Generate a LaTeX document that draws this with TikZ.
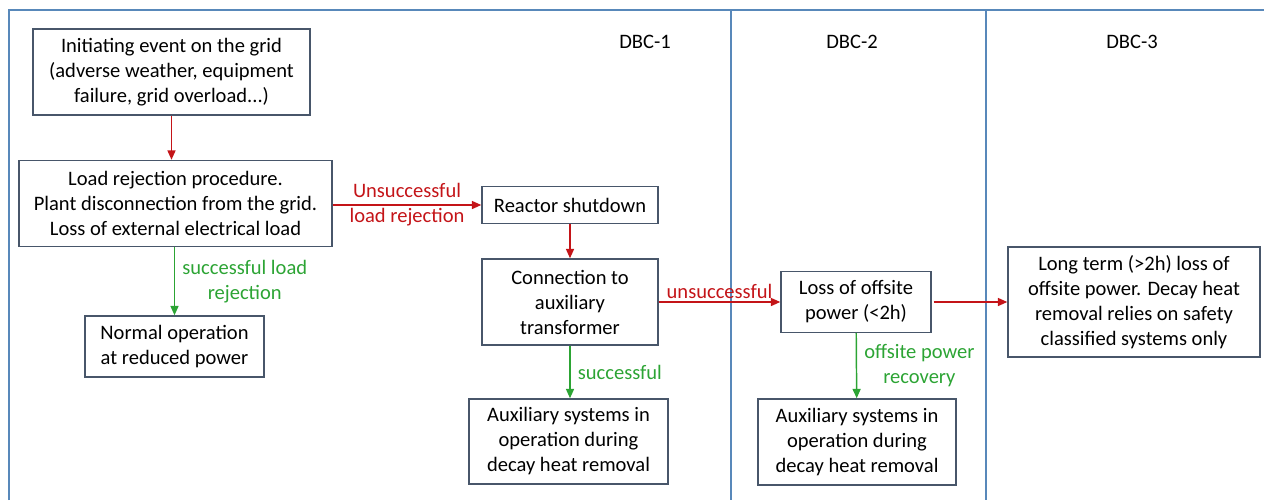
\documentclass[tikz,border=0pt]{standalone}
\usepackage{fontspec}
\setmainfont{Carlito}
\usepackage{tikz}
\usetikzlibrary{arrows.meta}
\definecolor{lanecol}{RGB}{88,136,186}
\definecolor{boxcol}{RGB}{72,86,106}
\definecolor{failcol}{RGB}{196,20,24}
\definecolor{okcol}{RGB}{44,164,52}
\tikzset{basic/.style={draw=boxcol,line width=1.1pt,fill=white,
                       align=center,inner sep=0pt,
                       font=\fontsize{15.4}{18.75}\selectfont}}
\tikzset{event/.style={basic,rectangle}}
\tikzset{fail/.style={color=failcol,line width=1.1pt,->}}
\tikzset{okay/.style={color=okcol,line width=1.1pt,->}}
\tikzset{failtext/.style={text=failcol,align=center,font=\fontsize{15.4}{18.75}\selectfont}}
\tikzset{oktext/.style={text=okcol,align=center,font=\fontsize{15.4}{18.75}\selectfont}}
\tikzset{lane/.style={draw=lanecol,line width=1pt}}

\begin{document}
\begin{tikzpicture}[x=0.75pt,y=-0.75pt,>={Triangle[length=7pt,width=6pt]}]
    \useasboundingbox (0,0) rectangle (1264,500);

    % lanes
    \draw[lane] (9,500) -- (9,10) -- (1264,10);
    \draw[lane] (731,10) -- (731,500);
    \draw[lane] (986,10) -- (986,500);
    \foreach \t/\x in {DBC-1/645,DBC-2/852,DBC-3/1132}{
        \node[font=\fontsize{15.4}{18.75}\selectfont] (lbl\t) at (\x,42) {\t};
    }

    % DBC-1
    \node[event,minimum width=277*0.75pt,minimum height=86*0.75pt] (init) at (171.5,72)
        {Initiating event on the grid\\(adverse weather, equipment\\failure, grid overload...)};
    \node[event,minimum width=313*0.75pt,minimum height=86*0.75pt] (loadrej) at (175.5,203.5)
        {Load rejection procedure.\\Plant disconnection from the grid.\\Loss of external electrical load};
    \node[event,minimum width=179*0.75pt,minimum height=61*0.75pt] (normal) at (174.5,346.5)
        {Normal operation\\at reduced power};
    \node[event,minimum width=176*0.75pt,minimum height=37*0.75pt] (shutdown) at (570,205)
        {Reactor shutdown};
    \node[event,minimum width=176*0.75pt,minimum height=86*0.75pt] (conn) at (570,302)
        {Connection to\\auxiliary\\transformer};
    \node[event,minimum width=199*0.75pt,minimum height=85*0.75pt] (aux1) at (568.5,441.5)
        {Auxiliary systems in\\operation during\\decay heat removal};

    % DBC-2
    \node[event,minimum width=150*0.75pt,minimum height=61*0.75pt] (lossoff) at (856,302)
        {Loss of offsite\\power (<2h)};
    \node[event,minimum width=198*0.75pt,minimum height=86*0.75pt] (aux2) at (857,442)
        {Auxiliary systems in\\operation during\\decay heat removal};

    % DBC-3
    \node[event,minimum width=252*0.75pt,minimum height=110*0.75pt] (longterm) at (1134,302)
        {Long term (>2h) loss of\\offsite power. Decay heat\\removal relies on safety\\classified systems only};

    % connectors
    \draw[fail] (init.south) -- (init.south |- loadrej.north);
    \draw[okay] (normal.north |- loadrej.south) -- (normal.north)
        node[oktext,midway,right=2pt] {successful load\\rejection};
    \draw[fail] (shutdown.west -| loadrej.east) -- (shutdown.west)
        node[failtext,midway] {Unsuccessful\\load rejection};
    \draw[fail] (shutdown) -- (conn);
    \draw[okay] (conn) -- (aux1.north -| conn)
        node[oktext,midway,right=2pt] {successful};
    \draw[fail] (conn.east) -- (lossoff.west)
        node[failtext,midway,above=-1pt] {unsuccessful};
    \draw[fail] ([xshift=1.5pt]lossoff.east) -- (longterm.west);
    \draw[okay] (lossoff) -- (aux2)
        node[oktext,midway,right=2pt] {offsite power\\recovery};
\end{tikzpicture}
\end{document}
